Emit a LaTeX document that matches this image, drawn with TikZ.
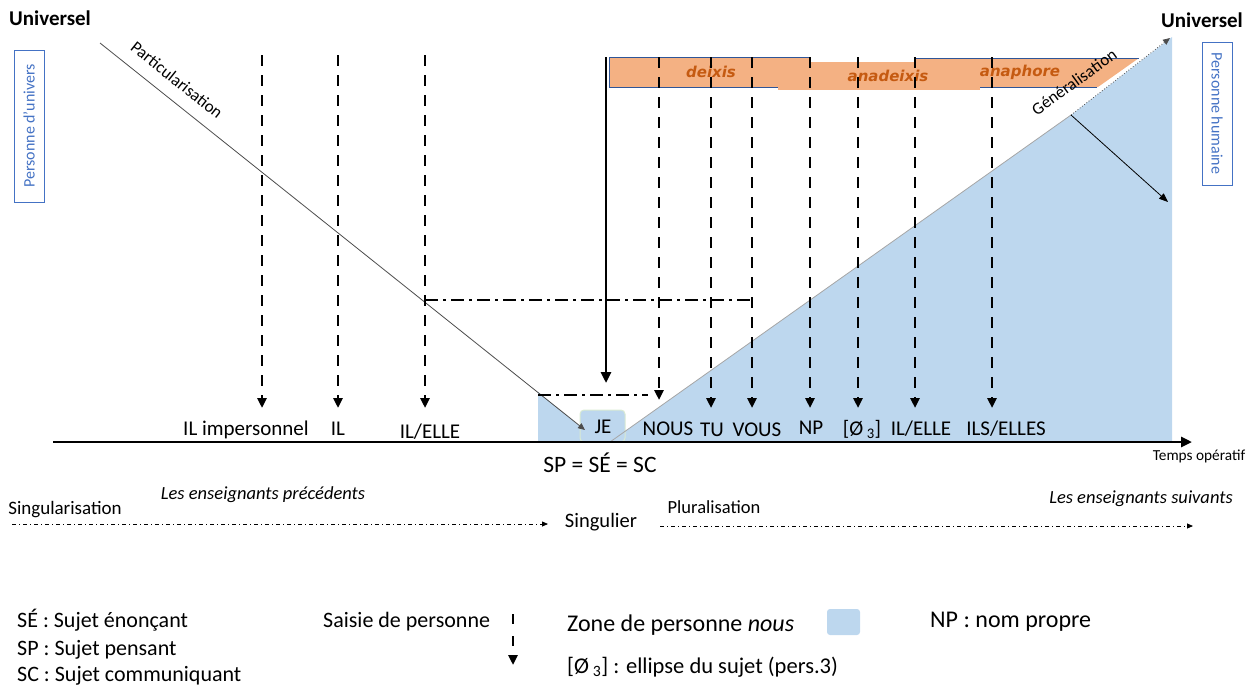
\documentclass[tikz,border=0pt]{standalone}
\usepackage{fontspec}
\setmainfont{Carlito}
\newfontfamily\vfont{DejaVu Sans}
\usetikzlibrary{arrows.meta}
\definecolor{zoneblue}{HTML}{BDD7EE}
\definecolor{barorange}{HTML}{F4B183}
\definecolor{bartext}{HTML}{C55A11}
\definecolor{boxblue}{HTML}{2F5597}
\definecolor{persblue}{HTML}{4472C4}
\definecolor{jeedge}{HTML}{D9EAD3}
\newcommand{\fs}[1]{\fontsize{#1}{#1}\selectfont}
\begin{document}
\begin{tikzpicture}[x=1pt,y=-1pt,
  saisie/.style={line width=2.7pt, dash pattern=on 11pt off 9pt, -{Triangle[length=10pt,width=9pt]}},
  solidarr/.style={line width=2.7pt, -{Triangle[length=11pt,width=10pt]}},
  dashdot/.style={line width=2.4pt, dash pattern=on 13pt off 5pt on 3pt off 5pt},
  thindd/.style={line width=0.8pt, dash pattern=on 4pt off 3pt on 1pt off 3pt, -{Triangle[length=6pt,width=5pt]}},
  lbl/.style={font=\fs{21}, inner sep=0pt, anchor=base},
  row/.style={font=\fs{18.5}, inner sep=0pt, anchor=base},
  leg/.style={font=\fs{22}, inner sep=0pt, anchor=base west},
  bartxt/.style={font=\vfont\bfseries\itshape\fs{15}, text=bartext, inner sep=0pt},
  persbox/.style={draw=persblue, line width=1pt, text=persblue, font=\fs{16}, inner sep=0pt},
  univ/.style={font=\bfseries\fs{21}, inner sep=0pt, anchor=base}
]
\useasboundingbox (0,0) rectangle (1256,686);

% coordinates
\coordinate (pA) at (100,43);
\coordinate (pB) at (585,430);
\coordinate (gA) at (610,442);
\coordinate (gM) at (1071,115);
\coordinate (gB) at (1170,38);
\coordinate (ax0) at (53,442);
\coordinate (ax1) at (1192,442);

% blue zones
\fill[zoneblue] (gA) -- (gM) -- (1172,37) -- (1172,442) -- cycle;
\fill[zoneblue] (538,392) -- (599,442) -- (538,442) -- cycle;
\node[fill=zoneblue, draw=jeedge, line width=1pt, rounded corners=4pt, minimum width=45pt, minimum height=32pt, inner sep=0pt] (jebox) at (602.5,426) {};

% orange bars
\fill[barorange] (915,58) -- (1139,58) -- (1098,87) -- (915,87) -- cycle;
\draw[boxblue, line width=1pt] (915,58) -- (1139,58);
\draw[boxblue, line width=1pt] (915,87) -- (1097,87);
\node[draw=boxblue, fill=barorange, line width=1pt, minimum width=201pt, minimum height=30pt, inner sep=0pt] (deixbox) at (709.5,72) {};
\fill[barorange] (778,62) rectangle (980,90);
\node[bartxt] (deixis) at (711,72) {deixis};
\node[bartxt] (anadeixis) at (888,76) {anadeixis};
\node[bartxt] (anaphore) at (1020,72) {anaphore};

% diagonals
\draw[gray!60!black, line width=0.8pt, -{Triangle[length=7pt,width=6pt]}] (pA) -- (pB);
\draw[gray!70, line width=0.8pt] (gA) -- (gM);
\draw[gray!60!black, line width=0.8pt, dotted, -{Triangle[length=7pt,width=6pt]}] (gM) -- (gB);
\draw[line width=0.8pt, -{Triangle[length=9pt,width=7pt]}] (gM) -- (1168,202) coordinate (gC);

\node[font=\fs{17}, rotate=-38.6, inner sep=0pt] (partic) at (177,80) {Particularisation};
\node[font=\fs{17}, rotate=35.8, inner sep=0pt] (general) at (1074,82) {Généralisation};

% axis
\draw[line width=2.7pt, -{Triangle[length=11pt,width=10pt]}] (ax0) -- (ax1);

% dash-dot horizontals
\draw[dashdot] (425,300) coordinate (d1a) -- (752,300) coordinate (d1b);
\draw[dashdot] (538,395) coordinate (d2a) -- (648,395) coordinate (d2b);

% saisie arrows left
\foreach \n/\x in {s1/262, s2/338, s3/425}{
  \coordinate (\n t) at (\x,55);
  \coordinate (\n b) at (\x,408);
  \draw[saisie] (\n t) -- (\n b);
}
% saisie arrows right
\coordinate (s4t) at (659,57); \coordinate (s4b) at (659,400);
\draw[saisie] (s4t) -- (s4b);
\foreach \n/\x in {s5/711, s6/752, s7/810, s8/858, s9/915, s10/992}{
  \coordinate (\n t) at (\x,57);
  \coordinate (\n b) at (\x,408);
  \draw[saisie] (\n t) -- (\n b);
}
% solid arrow
\coordinate (jt) at (606,57);
\coordinate (jb) at (606,383);
\draw[solidarr] (jt) -- (jb);

% labels
\node[lbl] (ilimp) at (246,435) {IL impersonnel};
\node[lbl] (il) at (338,435) {IL};
\node[lbl] (ilelle1) at (430,438) {IL/ELLE};
\node[lbl] (je) at (603,433) {JE};
\node[lbl] (nous) at (668,435) {NOUS};
\node[lbl] (tu) at (712,436) {TU};
\node[lbl] (vous) at (757,436) {VOUS};
\node[lbl] (np) at (811,434) {NP};
\node[lbl] (zero) at (862,435) {[Ø\,\textsubscript{3}]};
\node[lbl] (ilelle2) at (921,435) {IL/ELLE};
\node[lbl] (ilselles) at (1006,435) {ILS/ELLES};
\node[font=\fs{23.5}, inner sep=0pt, anchor=base] (spsesc) at (600,472) {SP = SÉ = SC};
\node[font=\fs{15.3}, inner sep=0pt, anchor=base] (temps) at (1199,460) {Temps opératif};

\node[univ] (univL) at (50,25) {Universel};
\node[univ] (univR) at (1202,27) {Universel};
\node[persbox, rotate=90, minimum width=152pt, minimum height=30pt] (punivers) at (29,126) {Personne d’univers};
\node[persbox, rotate=-90, minimum width=143pt, minimum height=30pt] (phumaine) at (1217,113.5) {Personne humaine};

% bottom row
\node[row, font=\fs{19}] (singul) at (65,514) {Singularisation};
\node[row, font=\itshape\fs{18.5}] (precedents) at (263,499) {Les enseignants précédents};
\coordinate (r1a) at (12,524); \coordinate (r1b) at (548,524);
\draw[thindd] (r1a) -- (r1b);
\node[font=\fs{20.5}, inner sep=0pt, anchor=base] (singulier) at (601,527) {Singulier};
\node[row] (plural) at (714,513) {Pluralisation};
\node[row, font=\itshape\fs{18.5}] (suivants) at (1141,503) {Les enseignants suivants};
\coordinate (r2a) at (660,526); \coordinate (r2b) at (1193,526);
\draw[thindd] (r2a) -- (r2b);

% legend
\node[leg] (lse) at (17,627) {SÉ : Sujet énonçant};
\node[leg] (lsp) at (17,655) {SP : Sujet pensant};
\node[leg] (lsc) at (17,681) {SC : Sujet communiquant};
\node[leg] (lsaisie) at (323,627) {Saisie de personne};
\coordinate (lgt) at (513,614); \coordinate (lgb) at (513,665);
\draw[saisie, dash pattern=on 10pt off 12pt] (lgt) -- (lgb);
\node[leg, font=\fs{24}] (lzone) at (567,631) {Zone de personne \textit{nous}};
\node[fill=zoneblue, rounded corners=3pt, minimum width=33pt, minimum height=26pt, inner sep=0pt] (lsq) at (843.5,622) {};
\node[leg, font=\fs{24}] (lnp) at (930,627) {NP : nom propre};
\node[leg, font=\fs{22.5}] (lzero) at (567,673) {[Ø\,\textsubscript{3}] : ellipse du sujet (pers.3)};
\end{tikzpicture}
\end{document}
